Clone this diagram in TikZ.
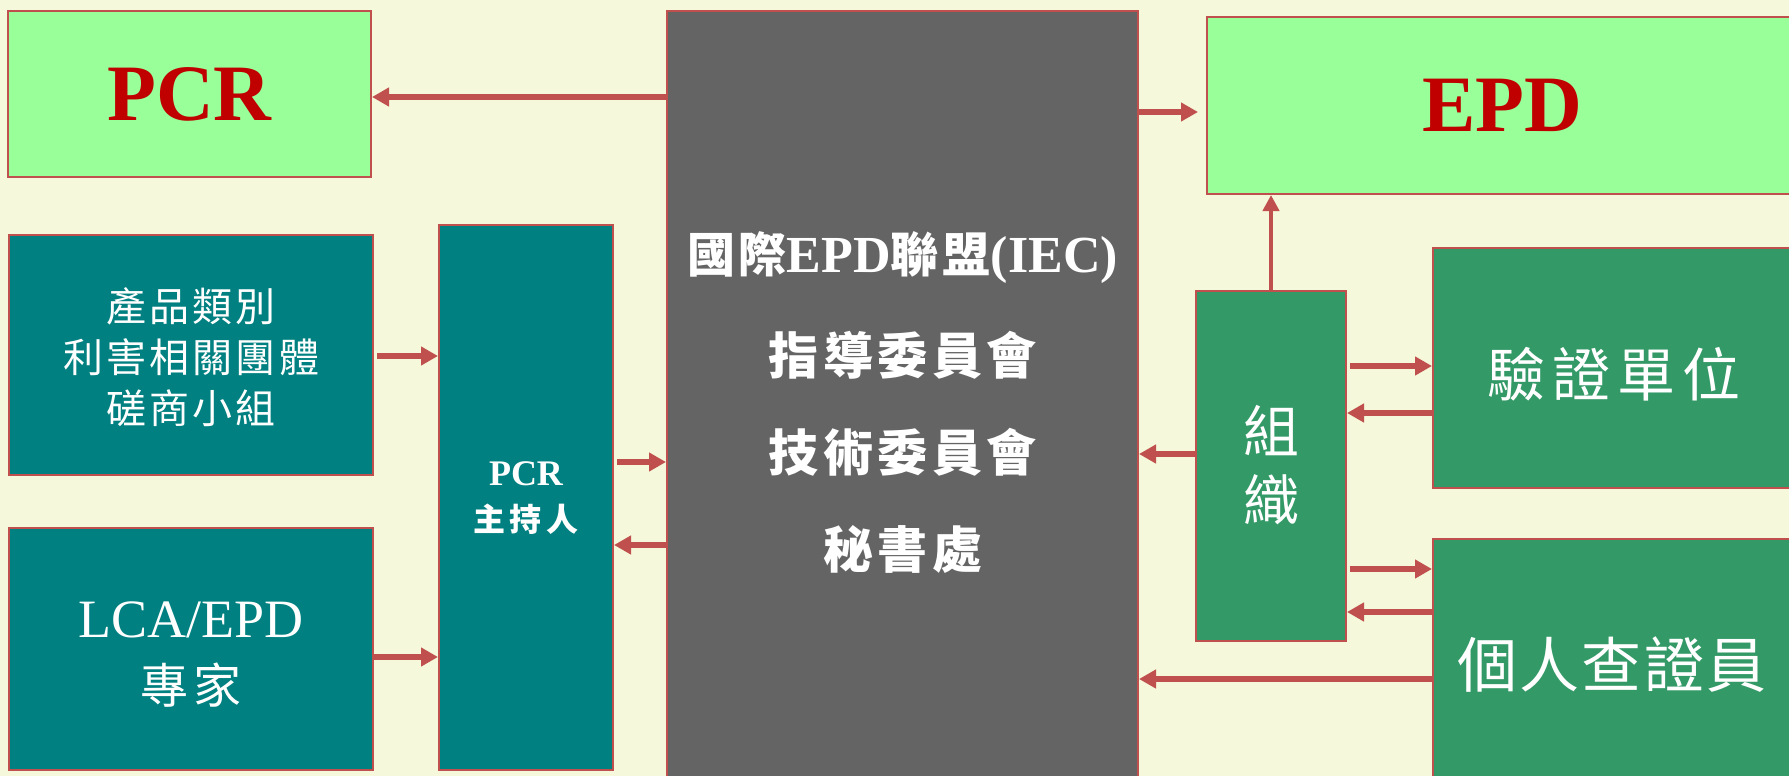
\documentclass[tikz,border=0pt]{standalone}
\usepackage{fontspec}
\setmainfont{Liberation Serif}
\newfontfamily\cjk{Noto Sans CJK TC}
\usetikzlibrary{arrows.meta}
\definecolor{bg}{RGB}{245,248,218}
\definecolor{lgreen}{RGB}{153,255,153}
\definecolor{tealc}{RGB}{0,128,128}
\definecolor{grayc}{RGB}{99,100,99}
\definecolor{greenc}{RGB}{51,153,102}
\definecolor{bord}{RGB}{192,80,77}
\definecolor{dred}{RGB}{192,0,0}
\newcommand{\cjksp}[1]{\cjk\addfontfeatures{LetterSpace=#1}}
\begin{document}
\begin{tikzpicture}[x=1pt,y=-1pt,
  box/.style={draw=bord,line width=2pt,rectangle,inner sep=0pt},
  lbl/.style={text=white,align=center,inner sep=0pt},
  big/.style={text=dred,inner sep=0pt,font=\bfseries\fontsize{80}{80}\selectfont},
  arr/.style={draw=bord,line width=6pt,-{Triangle[length=17pt,width=18pt]}},
  thinarr/.style={draw=bord,line width=4.5pt,-{Triangle[length=16pt,width=16pt]}}]
\fill[bg] (0,0) rectangle (1789,776);
\useasboundingbox (0,0) rectangle (1789,776);
\clip (0,0) rectangle (1789,776);
% boxes
\node[box,fill=lgreen,minimum width=363pt,minimum height=166pt] (pcr) at (189.5,94) {};
\node[box,fill=grayc,minimum width=471pt,minimum height=779pt] (central) at (902.5,400.5) {};
\node[box,fill=lgreen,minimum width=593pt,minimum height=177pt] (epd) at (1503.5,105.5) {};
\node[box,fill=tealc,minimum width=364pt,minimum height=240pt] (prod) at (191,355) {};
\node[box,fill=tealc,minimum width=364pt,minimum height=242pt] (lca) at (191,649) {};
\node[box,fill=tealc,minimum width=174pt,minimum height=545pt] (host) at (526,497.5) {};
\node[box,fill=greenc,minimum width=150pt,minimum height=350pt] (org) at (1271,466) {};
\node[box,fill=greenc,minimum width=367pt,minimum height=240pt] (ver) at (1616.5,368) {};
\node[box,fill=greenc,minimum width=367pt,minimum height=251pt] (ind) at (1616.5,664.5) {};
% texts
\node[big] (pcrt) at (189.5,94) {PCR};
\node[big] (epdt) at (1502,105) {EPD};
\node[lbl,font=\bfseries\fontsize{52}{52}\selectfont] (c1) at (902.5,258) {{\cjksp{8}\fontsize{48}{48}\selectfont 國際}EPD{\cjksp{8}\fontsize{48}{48}\selectfont 聯盟}(IEC)};
\node[lbl,font=\fontsize{50}{50}\selectfont] (c2) at (902.5,355) {\cjksp{9}\bfseries 指導委員會};
\node[lbl,font=\fontsize{50}{50}\selectfont] (c3) at (902.5,452) {\cjksp{9}\bfseries 技術委員會};
\node[lbl,font=\fontsize{50}{50}\selectfont] (c4) at (902.5,549) {\cjksp{9}\bfseries 秘書處};
\node[lbl,font=\fontsize{40}{51}\selectfont] (prodt) at (191,357) {\cjksp{8}產品類別\\\cjksp{8}利害相關團體\\\cjksp{8}磋商小組};
\node[lbl,font=\fontsize{54}{54}\selectfont] (lcat1) at (191,620) {LCA/EPD};
\node[lbl,font=\fontsize{48}{48}\selectfont] (lcat2) at (191,685) {\cjksp{12}專家};
\node[lbl,font=\bfseries\fontsize{36}{36}\selectfont] (hostt1) at (526,474) {PCR};
\node[lbl,font=\fontsize{32}{32}\selectfont] (hostt2) at (526,519) {\cjksp{15}\bfseries 主持人};
\node[lbl,font=\fontsize{56}{56}\selectfont] (orgt1) at (1271,431) {\cjk 組};
\node[lbl,font=\fontsize{56}{56}\selectfont] (orgt2) at (1271,500) {\cjk 織};
\node[lbl,font=\fontsize{58}{58}\selectfont] (vert) at (1614,374) {\cjksp{12}驗證單位};
\node[lbl,font=\fontsize{60}{60}\selectfont] (indt) at (1612,665) {\cjksp{4}個人查證員};
% arrows
\draw[arr] (central.west |- 0,97) -- (pcr.east |- 0,97);
\draw[arr,shorten >=8pt] (central.east |- 0,112) -- (epd.west |- 0,112);
\draw[thinarr] (org.north) -- (org.north |- epd.south);
\draw[arr,shorten <=3pt] (prod.east |- 0,356) -- (host.west |- 0,356);
\draw[arr] (lca.east |- 0,657) -- (host.west |- 0,657);
\draw[arr,shorten <=3pt] (host.east |- 0,462) -- (central.west |- 0,462);
\draw[arr] (central.west |- 0,545) -- (host.east |- 0,545);
\draw[arr] (org.west |- 0,454) -- (central.east |- 0,454);
\draw[arr,shorten <=3pt] (org.east |- 0,366) -- (ver.west |- 0,366);
\draw[arr] (ver.west |- 0,413) -- (org.east |- 0,413);
\draw[arr,shorten <=3pt] (org.east |- 0,569) -- (ind.west |- 0,569);
\draw[arr] (ind.west |- 0,612) -- (org.east |- 0,612);
\draw[arr] (ind.west |- 0,679) -- (central.east |- 0,679);
\end{tikzpicture}
\end{document}
